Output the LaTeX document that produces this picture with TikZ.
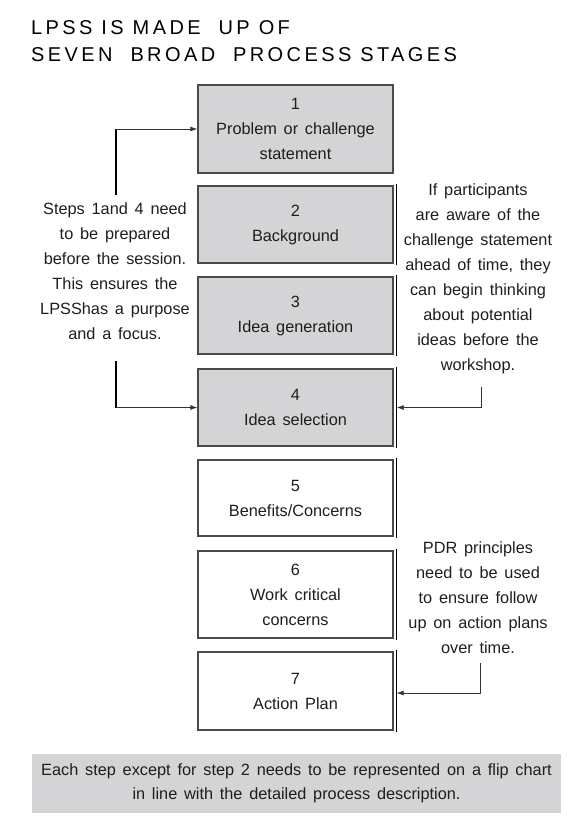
\documentclass[tikz,border=0pt]{standalone}
\usepackage{fontspec}
\setmainfont[WordSpace=1.5]{Liberation Sans}
\newfontfamily\titlefont[LetterSpace=17]{Liberation Sans}
\usetikzlibrary{arrows.meta}
\definecolor{boxgrey}{HTML}{D4D4D6}
\definecolor{edge}{HTML}{4A4A4A}
\definecolor{ink}{HTML}{1E1E1E}
\begin{document}
\begin{tikzpicture}[x=1pt,y=-1pt,
  stagebox/.style={draw=edge,line width=1.3pt,minimum width=195pt,align=center,
    font=\fontsize{16.3}{25}\selectfont,text=ink,inner sep=0pt},
  greybox/.style={stagebox,fill=boxgrey},
  whitebox/.style={stagebox,fill=white},
  note/.style={align=center,font=\fontsize{16.3}{25}\selectfont,text=ink,inner sep=0pt},
  thickline/.style={line width=1.6pt,black},
  arrowline/.style={line width=0.8pt,black!80,-{Latex[length=7pt,width=5pt]}}]
\useasboundingbox (0,0) rectangle (575,827);
% title
\node[anchor=base west,inner sep=0pt,font=\titlefont\fontsize{20}{27}\selectfont] (t1) at (31,34) {LPSS IS MADE\ \ UP OF};
\node[anchor=base west,inner sep=0pt,font=\titlefont\fontsize{20}{27}\selectfont] (t2) at (31,61) {SEVEN\ \ BROAD\ \ PROCESS STAGES};
% boxes
\node[greybox,minimum height=88pt] (b1) at (295.5,129) {1\\Problem or challenge\\statement};
\node[greybox,minimum height=77pt] (b2) at (295.5,224.5) {2\\Background};
\node[greybox,minimum height=77pt] (b3) at (295.5,315.5) {3\\Idea generation};
\node[greybox,minimum height=77pt] (b4) at (295.5,407.5) {4\\Idea selection};
\node[whitebox,minimum height=76pt] (b5) at (295.5,498) {5\\Benefits/Concerns};
\node[whitebox,minimum height=87pt] (b6) at (295.5,594.5) {6\\Work critical\\concerns};
\node[whitebox,minimum height=78pt] (b7) at (295.5,691) {7\\Action Plan};
\foreach \b in {b2,b3,b4,b5,b6,b7}{
  \draw[line width=0.9pt,black] ([xshift=2.5pt,yshift=1pt]\b.north east) -- ([xshift=2.5pt,yshift=-1pt]\b.south east);
}
% notes
\node[note] (lt) at (115,271) {Steps 1and 4 need\\to be prepared\\before the session.\\This ensures the\\LPSShas a purpose\\and a focus.};
\node[note] (rt) at (478,279) {If participants\\are aware of the\\challenge statement\\ahead of time, they\\can begin thinking\\about potential\\ideas before the\\workshop.};
\node[note] (rt2) at (478,598) {PDR principles\\need to be used\\to ensure follow\\up on action plans\\over time.};
% connectors
\coordinate (c1a) at (116,195);
\coordinate (c1b) at (116,129);
\draw[thickline] (c1a) -- (c1b);
\draw[arrowline] (c1b) -- (b1.west);
\coordinate (c4a) at (116,361);
\coordinate (c4b) at (116,407.5);
\draw[thickline] (c4a) -- (c4b);
\draw[arrowline] (c4b) -- (b4.west);
\coordinate (r4a) at (481,387);
\draw[arrowline] (r4a) |- ([xshift=3pt]b4.east);
\coordinate (r7a) at (480,663);
\draw[arrowline] (r7a) |- ([xshift=3pt,yshift=-2pt]b7.east);
% bottom band
\node[fill=boxgrey,minimum width=529pt,minimum height=59pt,inner sep=0pt,align=center,
  text=ink,font=\fontsize{16.3}{24}\selectfont] (band) at (296.5,783.5)
  {Each step except for step 2 needs to be represented on a flip chart\\in line with the detailed process description.};
\end{tikzpicture}
\end{document}
